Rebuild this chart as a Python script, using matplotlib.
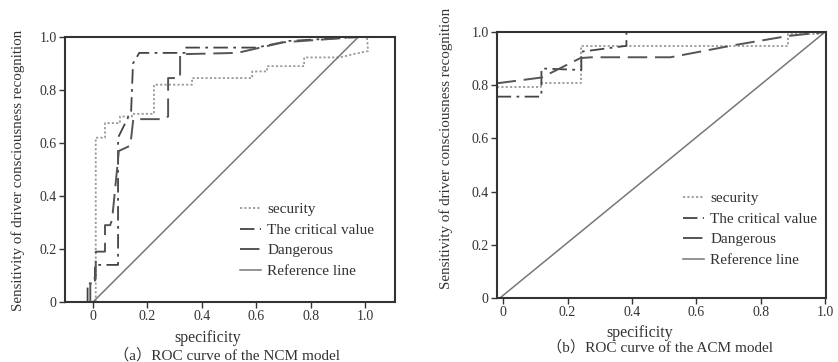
import matplotlib
matplotlib.use("Agg")
import matplotlib.pyplot as plt

plt.rcParams['font.family'] = ['Liberation Serif', 'Noto Sans CJK SC']

labels = ['security', 'The critical value', 'Dangerous', 'Reference line']
tick_vals = [0, 0.2, 0.4, 0.6, 0.8, 1.0]
tick_text = ['0', '0.2', '0.4', '0.6', '0.8', '1.0']

# (a) NCM model
ncm_sec_x = [0.01, 0.01, 0.044, 0.044, 0.099, 0.099, 0.143, 0.143, 0.224, 0.224, 0.364, 0.364,
             0.585, 0.585, 0.64, 0.64, 0.776, 0.776, 0.908, 0.956, 1.011, 1.007]
ncm_sec_y = [0, 0.62, 0.62, 0.675, 0.675, 0.70, 0.70, 0.71, 0.71, 0.82, 0.82, 0.845,
             0.845, 0.87, 0.87, 0.89, 0.89, 0.923, 0.923, 0.935, 0.947, 1.0]
ncm_crit_x = [-0.02, -0.02, 0.007, 0.007, 0.092, 0.092, 0.14, 0.147, 0.17, 0.338, 0.338, 0.60, 0.72, 0.975]
ncm_crit_y = [0, 0.07, 0.07, 0.14, 0.14, 0.62, 0.72, 0.90, 0.94, 0.94, 0.96, 0.96, 0.985, 1.0]
ncm_dang_x = [-0.01, -0.01, 0.01, 0.01, 0.044, 0.044, 0.063, 0.07, 0.095, 0.137, 0.148, 0.26,
              0.276, 0.276, 0.32, 0.32, 0.53, 0.70, 0.975]
ncm_dang_y = [0, 0.09, 0.09, 0.19, 0.19, 0.29, 0.29, 0.31, 0.57, 0.59, 0.69, 0.69,
              0.70, 0.845, 0.845, 0.935, 0.94, 0.98, 1.0]
ncm_ref_x = [0, 0.975]
ncm_ref_y = [0, 1.0]

# (b) ACM model
acm_sec_x = [-0.02, 0.119, 0.119, 0.243, 0.243, 0.885, 0.885, 1.0]
acm_sec_y = [0.794, 0.794, 0.807, 0.807, 0.948, 0.948, 0.991, 0.991]
acm_crit_x = [-0.02, 0.119, 0.119, 0.243, 0.243, 0.383, 0.383, 1.0]
acm_crit_y = [0.757, 0.757, 0.863, 0.857, 0.926, 0.948, 1.0, 1.0]
acm_dang_x = [-0.02, 0.12, 0.24, 0.276, 0.52, 0.72, 0.885, 1.0]
acm_dang_y = [0.807, 0.829, 0.902, 0.905, 0.905, 0.951, 0.985, 1.0]
acm_ref_x = [-0.01, 1.0]
acm_ref_y = [0, 1.0]

W, H = 838, 362
fig = plt.figure(figsize=(W / 100, H / 100), dpi=100)


def make_ax(l, r, t, b):
    return fig.add_axes([l / W, (H - b) / H, (r - l) / W, (b - t) / H])


def draw(ax, sx, sy, cx, cy, dx, dy, rx, ry):
    h1, = ax.plot(sx, sy, color='#9a9a9a', lw=1.3, ls=(0, (1.2, 1.2)))
    h2, = ax.plot(cx, cy, color='#444444', lw=1.3, ls=(0, (8, 3, 1.5, 3)))
    h3, = ax.plot(dx, dy, color='#555555', lw=1.4, ls=(0, (10, 4)))
    h4, = ax.plot(rx, ry, color='#777777', lw=1.1)
    for s in ax.spines.values():
        s.set_color('#333333')
        s.set_linewidth(1.5)
    ax.set_ylim(0, 1.0)
    ax.set_xticks(tick_vals)
    ax.set_xticklabels(tick_text)
    ax.set_yticks(tick_vals)
    ax.set_yticklabels(tick_text)
    ax.tick_params(direction='out', length=4, width=1, color='#333333',
                   labelsize=10, labelcolor='#333333', pad=2)
    return [h1, h2, h3, h4]


ax1 = make_ax(65, 395, 37, 302)
hs = draw(ax1, ncm_sec_x, ncm_sec_y, ncm_crit_x, ncm_crit_y,
          ncm_dang_x, ncm_dang_y, ncm_ref_x, ncm_ref_y)
ax1.set_xlim(-0.103, 1.110)
ax1.legend(hs, labels, loc='upper left', bbox_to_anchor=(0.53, 0.375), frameon=False,
           fontsize=11, handlelength=1.4, handletextpad=0.4, labelspacing=0.45,
           borderpad=0, borderaxespad=0, labelcolor='#333333')

ax2 = make_ax(497, 826, 32, 298)
hs = draw(ax2, acm_sec_x, acm_sec_y, acm_crit_x, acm_crit_y,
          acm_dang_x, acm_dang_y, acm_ref_x, acm_ref_y)
ax2.set_xlim(-0.019, 1.003)
ax2.legend(hs, labels, loc='upper left', bbox_to_anchor=(0.565, 0.40), frameon=False,
           fontsize=11, handlelength=1.4, handletextpad=0.4, labelspacing=0.45,
           borderpad=0, borderaxespad=0, labelcolor='#333333')

ylab = 'Sensitivity of driver consciousness recognition'
fig.text(18 / W, 1 - 170 / H, ylab, rotation=90, ha='center', va='center',
         fontsize=10.8, color='#333333')
fig.text(446 / W, 1 - 148 / H, ylab, rotation=90, ha='center', va='center',
         fontsize=10.8, color='#333333')
fig.text(208 / W, 1 - 338 / H, 'specificity', ha='center', va='center',
         fontsize=11.5, color='#333333')
fig.text(640 / W, 1 - 333 / H, 'specificity', ha='center', va='center',
         fontsize=11.5, color='#333333')
fig.text(227 / W, 1 - 355 / H, '（a）ROC curve of the NCM model', ha='center', va='center',
         fontsize=11, color='#333333')
fig.text(660 / W, 1 - 347 / H, '（b）ROC curve of the ACM model', ha='center', va='center',
         fontsize=11, color='#333333')

fig.savefig('out.png', dpi=100)
